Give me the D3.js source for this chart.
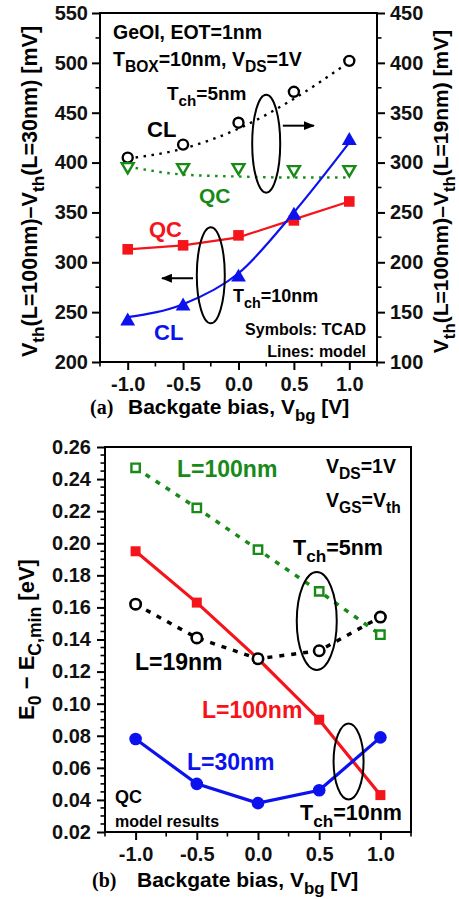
<!DOCTYPE html>
<html><head><meta charset="utf-8">
<script src="https://cdn.jsdelivr.net/npm/d3@7/dist/d3.min.js"></script>
<style>
html,body{margin:0;padding:0;background:#fff;}
text{font-family:"Liberation Sans",Arial,sans-serif;font-weight:bold;}
</style></head>
<body>
<svg id="c" width="459" height="899"></svg>
<script>
// ---------- DATA ----------
const vbg = [-1.0, -0.5, 0.0, 0.5, 1.0];
const xTickLabels = ["-1.0", "-0.5", "0.0", "0.5", "1.0"];

// Panel (a) left axis: Vth(L=100nm)-Vth(L=30nm), T_ch=10nm
const aQC10_tcad  = [313, 317, 327, 342, 361];
const aQC10_model = [313, 317, 325, 343, 361];
const aCL10_tcad  = [241, 256, 285, 347, 422];
const aCL10_model = [245, 258, 289, 350, 420];
// Panel (a) right axis: Vth(L=100nm)-Vth(L=19nm), T_ch=5nm
const aCL5_tcad   = [305, 318, 340, 371, 402];
const aCL5_model  = [304, 314, 334, 364, 401];
const aQC5_tcad   = [296, 295, 295, 293, 293];
const aQC5_model  = [296, 288, 286, 285, 285];
const aLeftTicks  = [200, 250, 300, 350, 400, 450, 500, 550];
const aRightTicks = [100, 150, 200, 250, 300, 350, 400, 450];

// Panel (b): E0 - Ec,min [eV]
const bL100_T5  = [0.247, 0.222, 0.196, 0.170, 0.143];
const bL19_T5   = [0.162, 0.141, 0.128, 0.133, 0.154];
const bL100_T10 = [0.195, 0.163, 0.128, 0.090, 0.043];
const bL30_T10  = [0.078, 0.050, 0.038, 0.046, 0.079];
const bTicks = [0.02,0.04,0.06,0.08,0.10,0.12,0.14,0.16,0.18,0.20,0.22,0.24,0.26];

// ---------- HELPERS ----------
const svg = d3.select("#c");
const FONT = '"Liberation Sans",Arial,sans-serif';
const GREEN = "#178a17", RED = "#f5141a", BLUE = "#0c12ee";
function rich(sel, str, sc = 0.8, sh = 0.33) {
  const parts = str.split(/(_\{[^}]*\})/).filter(s => s.length);
  let inSub = false;
  parts.forEach(p => {
    if (p.startsWith("_{")) {
      sel.append("tspan").attr("font-size", (sc*100)+"%").attr("dy", (sh/sc).toFixed(3)+"em").text(p.slice(2, -1));
      inSub = true;
    } else {
      const t = sel.append("tspan").text(p);
      if (inSub) { t.attr("dy", (-sh)+"em"); inSub = false; }
    }
  });
  return sel;
}
function label(g, x, y, str, opts = {}) {
  const t = g.append("text").attr("x", x).attr("y", y)
    .attr("font-size", opts.size || 17)
    .attr("fill", opts.color || "#000")
    .attr("text-anchor", opts.anchor || "start");
  if (opts.weight) t.attr("font-weight", opts.weight);
  if (opts.family) t.style("font-family", opts.family);
  rich(t, str);
  return t;
}
function styleAxis(g, size) {
  g.select(".domain").remove();
  g.selectAll(".tick line").attr("stroke", "#000").attr("stroke-width", 2);
  g.selectAll(".tick text").attr("font-size", size).attr("font-family", null)
    .style("font-family", FONT).style("font-weight", "bold").attr("fill", "#111");
}
function minorTicks(g, scale, vals, orient, len) {
  vals.forEach(v => {
    const p = scale(v);
    const l = g.append("line").attr("stroke", "#000").attr("stroke-width", 1.6);
    if (orient === "left") l.attr("x1", 0).attr("x2", -len).attr("y1", p).attr("y2", p);
    if (orient === "right") l.attr("x1", 0).attr("x2", len).attr("y1", p).attr("y2", p);
    if (orient === "bottom") l.attr("y1", 0).attr("y2", len).attr("x1", p).attr("x2", p);
  });
}
function range(a, b, s) { const r = []; for (let v = a; v <= b + 1e-9; v += s) r.push(+v.toFixed(4)); return r; }
const defs = svg.append("defs");
defs.append("marker").attr("id", "arr").attr("viewBox", "0 0 10 10").attr("refX", 9).attr("refY", 5)
  .attr("markerWidth", 5.5).attr("markerHeight", 5.5).attr("orient", "auto-start-reverse").attr("markerUnits", "strokeWidth")
  .append("path").attr("d", "M0,1 L10,5 L0,9 z").attr("fill", "#000");

// ---------- PANEL (a) ----------
const A = {l: 100, r: 377, t: 13, b: 362};
const xa = d3.scaleLinear().domain([-1.25, 1.25]).range([A.l, A.r]);
const yaL = d3.scaleLinear().domain([200, 550]).range([A.b, A.t]);
const yaR = d3.scaleLinear().domain([100, 450]).range([A.b, A.t]);
const ga = svg.append("g");

const axL = ga.append("g").attr("transform", `translate(${A.l},0)`)
  .call(d3.axisLeft(yaL).tickValues(aLeftTicks).tickSize(8).tickPadding(4).tickFormat(d3.format("d")));
styleAxis(axL, 20);
minorTicks(axL, yaL, range(225, 525, 50), "left", 4.5);
const axR = ga.append("g").attr("transform", `translate(${A.r},0)`)
  .call(d3.axisRight(yaR).tickValues(aRightTicks).tickSize(8).tickPadding(5).tickFormat(d3.format("d")));
styleAxis(axR, 20);
minorTicks(axR, yaR, range(125, 425, 50), "right", 4.5);
const axB = ga.append("g").attr("transform", `translate(0,${A.b})`)
  .call(d3.axisBottom(xa).tickValues(vbg).tickSize(8).tickPadding(7).tickFormat((d, i) => xTickLabels[i]));
styleAxis(axB, 20);
minorTicks(axB, xa, [-1.25, -0.75, -0.25, 0.25, 0.75, 1.25], "bottom", 4.5);
ga.append("rect").attr("x", A.l).attr("y", A.t).attr("width", A.r - A.l).attr("height", A.b - A.t)
  .attr("fill", "none").attr("stroke", "#000").attr("stroke-width", 2);

const lineA = (ys, curve) => d3.line().x((d, i) => xa(vbg[i])).y(d => ys(d)).curve(curve || d3.curveLinear);

ga.append("path").datum(aCL5_model).attr("d", lineA(yaR, d3.curveMonotoneX))
  .attr("fill", "none").attr("stroke", "#000").attr("stroke-width", 2.4).attr("stroke-dasharray", "2.5,5.5");
ga.append("path").datum(aQC5_model).attr("d", lineA(yaR, d3.curveMonotoneX))
  .attr("fill", "none").attr("stroke", GREEN).attr("stroke-width", 2.4).attr("stroke-dasharray", "2.5,5.5");
ga.append("path").datum(aQC10_model).attr("d", lineA(yaL))
  .attr("fill", "none").attr("stroke", RED).attr("stroke-width", 2.2);
ga.append("path").datum(aCL10_model).attr("d", lineA(yaL, d3.curveMonotoneX))
  .attr("fill", "none").attr("stroke", BLUE).attr("stroke-width", 2.2);

ga.selectAll(".sqA").data(aQC10_tcad).join("path")
  .attr("transform", (d, i) => `translate(${xa(vbg[i])},${yaL(d)})`)
  .attr("d", d3.symbol(d3.symbolSquare, 112)).attr("fill", RED);
ga.selectAll(".trA").data(aCL10_tcad).join("path")
  .attr("transform", (d, i) => `translate(${xa(vbg[i])},${yaL(d)})`)
  .attr("d", d3.symbol(d3.symbolTriangle, 95)).attr("fill", BLUE);
ga.selectAll(".ciA").data(aCL5_tcad).join("circle")
  .attr("cx", (d, i) => xa(vbg[i])).attr("cy", d => yaR(d)).attr("r", 5)
  .attr("fill", "#fff").attr("stroke", "#000").attr("stroke-width", 2.4);
ga.selectAll(".tdA").data(aQC5_tcad).join("path")
  .attr("transform", (d, i) => `translate(${xa(vbg[i])},${yaR(d)}) rotate(180)`)
  .attr("d", d3.symbol(d3.symbolTriangle, 62)).attr("fill", "#fff").attr("stroke", GREEN).attr("stroke-width", 2.4);

ga.append("ellipse").attr("cx", xa(0.25)).attr("cy", yaR(319)).attr("rx", 14).attr("ry", 49)
  .attr("fill", "none").attr("stroke", "#000").attr("stroke-width", 2);
ga.append("ellipse").attr("cx", xa(-0.25)).attr("cy", yaL(287)).attr("rx", 14).attr("ry", 48)
  .attr("fill", "none").attr("stroke", "#000").attr("stroke-width", 2);
ga.append("line").attr("x1", xa(0.40)).attr("x2", xa(0.68)).attr("y1", yaR(337)).attr("y2", yaR(337))
  .attr("stroke", "#000").attr("stroke-width", 2).attr("marker-end", "url(#arr)");
ga.append("line").attr("x1", xa(-0.41)).attr("x2", xa(-0.69)).attr("y1", yaL(284)).attr("y2", yaL(284))
  .attr("stroke", "#000").attr("stroke-width", 2).attr("marker-end", "url(#arr)");

label(ga, 113, 39, "GeOI, EOT=1nm", {size: 19.5});
label(ga, 113, 66, "T_{BOX}=10nm, V_{DS}=1V", {size: 19.5});
label(ga, 167, 100, "T_{ch}=5nm", {size: 19});
label(ga, 147, 137, "CL", {size: 22});
label(ga, 199, 203, "QC", {size: 21, color: GREEN});
label(ga, 149, 237, "QC", {size: 22, color: RED});
label(ga, 154, 340, "CL", {size: 22, color: BLUE});
label(ga, 233, 302, "T_{ch}=10nm", {size: 18});
label(ga, 366, 335, "Symbols: TCAD", {size: 16, anchor: "end"});
label(ga, 366, 357, "Lines: model", {size: 16, anchor: "end"});

label(ga, 90, 414, "(a)", {size: 20, weight: "normal", family: '"Liberation Serif","Times New Roman",serif'});
label(ga, 128, 414, "Backgate bias, V_{bg} [V]", {size: 21});
label(ga, 0, 0, "V_{th}(L=100nm)\u2013V_{th}(L=30nm) [mV]", {size: 21.5, anchor: "middle"})
  .attr("transform", `translate(37,${(A.t + A.b) / 2 + 4}) rotate(-90)`);
label(ga, 0, 0, "V_{th}(L=100nm)\u2013V_{th}(L=19nm) [mV]", {size: 21, anchor: "middle"})
  .attr("transform", `translate(448,${(A.t + A.b) / 2 + 4}) rotate(-90)`);

// ---------- PANEL (b) ----------
const B = {l: 105, r: 411, t: 447, b: 832};
const xb = d3.scaleLinear().domain([-1.25, 1.25]).range([B.l, B.r]);
const yb = d3.scaleLinear().domain([0.02, 0.26]).range([B.b, B.t]);
const gb = svg.append("g");

const bxL = gb.append("g").attr("transform", `translate(${B.l},0)`)
  .call(d3.axisLeft(yb).tickValues(bTicks).tickSize(8).tickPadding(6).tickFormat(d3.format(".2f")));
styleAxis(bxL, 20);
minorTicks(bxL, yb, range(0.025, 0.255, 0.005).filter(v => Math.abs(Math.round(v * 50) - v * 50) > 1e-6), "left", 4.5);
const bxB = gb.append("g").attr("transform", `translate(0,${B.b})`)
  .call(d3.axisBottom(xb).tickValues(vbg).tickSize(8).tickPadding(7).tickFormat((d, i) => xTickLabels[i]));
styleAxis(bxB, 20);
minorTicks(bxB, xb, [-1.25, -0.75, -0.25, 0.25, 0.75, 1.25], "bottom", 4.5);
gb.append("rect").attr("x", B.l).attr("y", B.t).attr("width", B.r - B.l).attr("height", B.b - B.t)
  .attr("fill", "none").attr("stroke", "#000").attr("stroke-width", 2);

const lineB = d3.line().x((d, i) => xb(vbg[i])).y(d => yb(d));
gb.append("path").datum(bL100_T5).attr("d", lineB)
  .attr("fill", "none").attr("stroke", GREEN).attr("stroke-width", 3.5).attr("stroke-dasharray", "5,7");
gb.append("path").datum(bL100_T10).attr("d", lineB)
  .attr("fill", "none").attr("stroke", RED).attr("stroke-width", 3.2);
gb.selectAll(".sqB").data(bL100_T10).join("path")
  .attr("transform", (d, i) => `translate(${xb(vbg[i])},${yb(d)})`)
  .attr("d", d3.symbol(d3.symbolSquare, 100)).attr("fill", RED);
gb.append("path").datum(bL19_T5).attr("d", lineB)
  .attr("fill", "none").attr("stroke", "#000").attr("stroke-width", 3.5).attr("stroke-dasharray", "5,7");
gb.append("path").datum(bL30_T10).attr("d", lineB)
  .attr("fill", "none").attr("stroke", BLUE).attr("stroke-width", 3.2);
gb.selectAll(".ciB").data(bL30_T10).join("circle")
  .attr("cx", (d, i) => xb(vbg[i])).attr("cy", d => yb(d)).attr("r", 6.3).attr("fill", BLUE);
gb.selectAll(".oqB").data(bL100_T5).join("path")
  .attr("transform", (d, i) => `translate(${xb(vbg[i])},${yb(d)})`)
  .attr("d", d3.symbol(d3.symbolSquare, 70)).attr("fill", "#fff").attr("stroke", GREEN).attr("stroke-width", 2.4);
gb.selectAll(".ocB").data(bL19_T5).join("circle")
  .attr("cx", (d, i) => xb(vbg[i])).attr("cy", d => yb(d)).attr("r", 5.2)
  .attr("fill", "#fff").attr("stroke", "#000").attr("stroke-width", 2.6);

gb.append("ellipse").attr("cx", xb(0.48)).attr("cy", yb(0.1515)).attr("rx", 20).attr("ry", 49)
  .attr("fill", "none").attr("stroke", "#000").attr("stroke-width", 2);
gb.append("ellipse").attr("cx", xb(0.74)).attr("cy", yb(0.064)).attr("rx", 15).attr("ry", 38)
  .attr("fill", "none").attr("stroke", "#000").attr("stroke-width", 2);

label(gb, 177, 477, "L=100nm", {size: 23, color: GREEN});
label(gb, 326, 473, "V_{DS}=1V", {size: 19.5});
label(gb, 326, 507, "V_{GS}=V_{th}", {size: 19.5});
label(gb, 293, 555, "T_{ch}=5nm", {size: 21.5});
label(gb, 135, 670, "L=19nm", {size: 23});
label(gb, 202, 718, "L=100nm", {size: 23, color: RED});
label(gb, 187, 770, "L=30nm", {size: 23, color: BLUE});
label(gb, 115, 803, "QC", {size: 18});
label(gb, 115, 827, "model results", {size: 16});
label(gb, 300, 820, "T_{ch}=10nm", {size: 21.5});

label(gb, 92, 887, "(b)", {size: 20, weight: "normal", family: '"Liberation Serif","Times New Roman",serif'});
label(gb, 137, 887, "Backgate bias, V_{bg} [V]", {size: 21});
label(gb, 0, 0, "E_{0} \u2212 E_{C,min} [eV]", {size: 22, anchor: "middle"})
  .attr("transform", `translate(34,${(B.t + B.b) / 2}) rotate(-90)`);
</script>
</body></html>
